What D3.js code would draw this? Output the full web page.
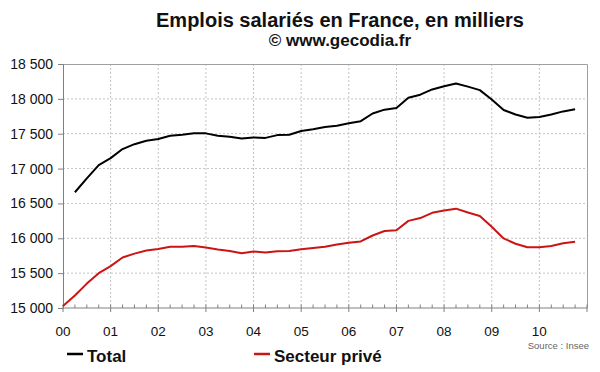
<!DOCTYPE html>
<html><head><meta charset="utf-8">
<script src="https://cdn.jsdelivr.net/npm/d3@7"></script>
<style>
html,body{margin:0;padding:0;background:#fff;}
svg{display:block;font-family:"Liberation Sans",Arial,sans-serif;}
</style></head>
<body>
<svg id="chart" width="600" height="372"></svg>
<script>
// ---- data (quarterly, thousands of jobs) ----
const totalQuarters = ["2000T1","2000T2","2000T3","2000T4","2001T1","2001T2","2001T3","2001T4","2002T1","2002T2","2002T3","2002T4","2003T1","2003T2","2003T3","2003T4","2004T1","2004T2","2004T3","2004T4","2005T1","2005T2","2005T3","2005T4","2006T1","2006T2","2006T3","2006T4","2007T1","2007T2","2007T3","2007T4","2008T1","2008T2","2008T3","2008T4","2009T1","2009T2","2009T3","2009T4","2010T1","2010T2","2010T3"];
const totalValues = [16660,16860,17050,17150,17280,17350,17400,17425,17470,17485,17505,17505,17470,17455,17430,17445,17440,17480,17485,17540,17565,17595,17615,17650,17680,17790,17845,17870,18015,18060,18135,18180,18220,18175,18125,17990,17840,17775,17730,17740,17775,17820,17850];
const priveQuarters = ["1999T4"].concat(totalQuarters);
const priveValues = [15030,15180,15350,15500,15600,15725,15780,15825,15845,15880,15880,15890,15867,15838,15818,15785,15810,15795,15815,15818,15842,15860,15880,15910,15937,15955,16040,16105,16115,16250,16290,16365,16400,16425,16370,16320,16165,15998,15922,15872,15870,15890,15928,15950];
const yearTicks = [2000,2001,2002,2003,2004,2005,2006,2007,2008,2009,2010,2011];
const yearLabels = ["00","01","02","03","04","05","06","07","08","09","10",""];
const yTicks = [15000,15500,16000,16500,17000,17500,18000,18500];
const seriesNames = ["Total","Secteur privé"];
const seriesColors = ["#000000","#cc1414"];

// ---- layout ----
const L = 63, R = 587, T = 64, B = 308;
const qToNum = q => +q.slice(0,4) + (+q.slice(5))*0.25;
const x = d3.scaleLinear().domain([2000,2011]).range([L,R]);
const y = d3.scaleLinear().domain([15000,18500]).range([B,T]);
const fmt = v => d3.format(",")(v).replace(",", " ");

const svg = d3.select("#chart");

// title
svg.append("text").attr("x",340).attr("y",27).attr("text-anchor","middle")
  .attr("font-size",20).attr("font-weight","bold").attr("fill","#111")
  .text("Emplois salariés en France, en milliers");
svg.append("text").attr("x",340).attr("y",46).attr("text-anchor","middle")
  .attr("font-size",17).attr("font-weight","bold").attr("fill","#111")
  .text("© www.gecodia.fr");

// grid
const grid = svg.append("g");
grid.selectAll("line.h").data(yTicks.slice(1,-1)).join("line")
  .attr("x1",L).attr("x2",R).attr("y1",d=>y(d)).attr("y2",d=>y(d))
  .attr("stroke","#c4c4c4").attr("stroke-dasharray","2,2").attr("stroke-width",1);
grid.selectAll("line.v").data(yearTicks.slice(1,-1)).join("line")
  .attr("x1",d=>x(d)).attr("x2",d=>x(d)).attr("y1",T).attr("y2",B)
  .attr("stroke","#c4c4c4").attr("stroke-dasharray","2,2").attr("stroke-width",1);
// border top & right
svg.append("path").attr("d",`M${L},${T+0.5}H${R+0.5}V${B}`)
  .attr("fill","none").attr("stroke","#a0a0a0").attr("stroke-width",1);

// y axis
const yAxis = d3.axisLeft(y).tickValues(yTicks).tickFormat(fmt).tickSize(5).tickPadding(5);
const gy = svg.append("g").attr("transform",`translate(${L},0)`).call(yAxis);
gy.select(".domain").attr("stroke","#808080");
gy.selectAll(".tick line").attr("stroke","#808080");
gy.selectAll(".tick text").attr("font-size",14).attr("fill","#111").attr("font-family","Liberation Sans, Arial, sans-serif");

// x axis: major ticks crossing, minor quarter ticks inside
const gx = svg.append("g").attr("transform",`translate(0,${B})`);
const minor = [];
yearTicks.slice(0,-1).forEach(yr => [0.25,0.5,0.75].forEach(f => minor.push(yr+f)));
gx.selectAll("line.minor").data(minor).join("line")
  .attr("x1",d=>x(d)).attr("x2",d=>x(d)).attr("y1",-3.5).attr("y2",0)
  .attr("stroke","#808080");
gx.selectAll("line.major").data(yearTicks).join("line")
  .attr("x1",d=>x(d)).attr("x2",d=>x(d)).attr("y1",-3.5).attr("y2",4)
  .attr("stroke","#808080");
gx.append("line").attr("x1",L).attr("x2",R+0.5).attr("y1",0).attr("y2",0).attr("stroke","#808080");
gx.selectAll("text").data(yearTicks.slice(0,-1)).join("text")
  .attr("x",d=>x(d)).attr("y",28).attr("text-anchor","middle")
  .attr("font-size",13.5).attr("fill","#111")
  .text((d,i)=>yearLabels[i]);

// lines
const line = d3.line().x(d=>x(qToNum(d.q))).y(d=>y(d.v));
const totalData = totalQuarters.map((q,i)=>({q, v: totalValues[i]}));
const priveData = priveQuarters.map((q,i)=>({q, v: priveValues[i]}));
svg.append("path").datum(priveData).attr("d",line).attr("fill","none")
  .attr("stroke",seriesColors[1]).attr("stroke-width",2).attr("stroke-linejoin","round");
svg.append("path").datum(totalData).attr("d",line).attr("fill","none")
  .attr("stroke",seriesColors[0]).attr("stroke-width",2).attr("stroke-linejoin","round");

// source
svg.append("text").attr("x",589).attr("y",349).attr("text-anchor","end")
  .attr("font-size",9.5).attr("fill","#666").text("Source : Insee");

// legend
const legX = [67,254];
seriesNames.forEach((n,i)=>{
  svg.append("line").attr("x1",legX[i]).attr("x2",legX[i]+16).attr("y1",354).attr("y2",354)
    .attr("stroke",seriesColors[i]).attr("stroke-width",2.5);
  svg.append("text").attr("x",legX[i]+20).attr("y",361.5).attr("font-size",17)
    .attr("font-weight","bold").attr("fill","#111").text(n);
});
</script>
</body></html>
